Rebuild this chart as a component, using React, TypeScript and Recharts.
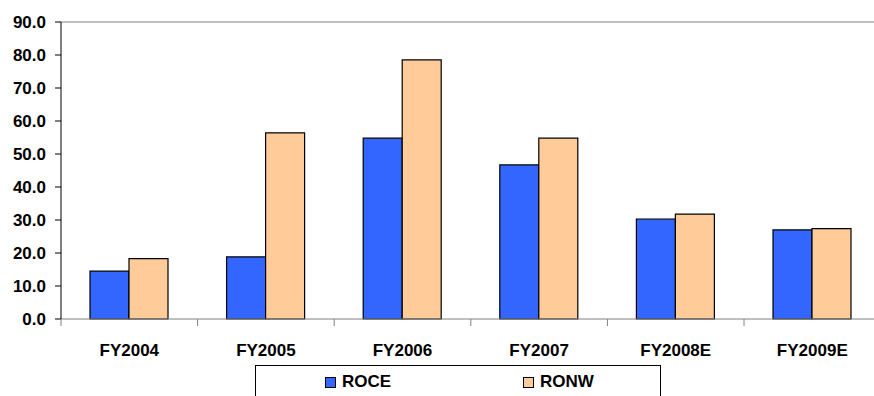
import { BarChart, Bar, XAxis, YAxis, ReferenceLine } from 'recharts';

const categories = ['FY2004', 'FY2005', 'FY2006', 'FY2007', 'FY2008E', 'FY2009E'];
const roce = [14.5, 18.8, 54.8, 46.7, 30.3, 27.0];
const ronw = [18.3, 56.4, 78.5, 54.8, 31.8, 27.4];
const yTicks = [0, 10, 20, 30, 40, 50, 60, 70, 80, 90];
const seriesNames = ['ROCE', 'RONW'];
const seriesColors = ['#3366FF', '#FFCC99'];

const CHART_W = 900;
const CHART_H = 396;
const Y_AXIS_W = 61;
const MARGIN = { top: 22, right: 19.4, left: 0, bottom: 47 };
const BAND = (CHART_W - Y_AXIS_W - MARGIN.left - MARGIN.right) / categories.length;
const FONT = '"Liberation Sans", Arial, sans-serif';

const data = categories.map((name, i) => ({ name, roce: roce[i], ronw: ronw[i] }));

// category label at band centre, tick marks at band edges like Excel
function CategoryTick(props: any) {
    const { x, y, payload, index } = props;
    const left = x - BAND / 2;
    return (
        <g>
            <line x1={left} y1={y} x2={left} y2={y + 7} stroke="#808080" />
            {index === categories.length - 1 && (
                <line x1={x + BAND / 2} y1={y} x2={x + BAND / 2} y2={y + 7} stroke="#808080" />
            )}
            <text
                x={x}
                y={y + 37}
                textAnchor="middle"
                fill="#000"
                fontFamily={FONT}
                fontWeight="bold"
                fontSize={17}
            >
                {payload.value}
            </text>
        </g>
    );
}

export default function App() {
    return (
        <div
            style={{
                position: 'absolute',
                left: 0,
                top: 0,
                width: 874,
                height: 396,
                overflow: 'hidden',
                background: '#fff',
            }}
        >
            <BarChart
                width={CHART_W}
                height={CHART_H}
                data={data}
                margin={MARGIN}
                barCategoryGap={29}
                barGap={0}
            >
                <ReferenceLine y={90} stroke="#808080" />
                <XAxis
                    dataKey="name"
                    height={30}
                    stroke="#808080"
                    tickLine={false}
                    tickSize={0}
                    tickMargin={0}
                    interval={0}
                    tick={<CategoryTick />}
                />
                <YAxis
                    width={Y_AXIS_W}
                    domain={[0, 90]}
                    ticks={yTicks}
                    interval={0}
                    stroke="#000"
                    tickSize={6}
                    tickMargin={9}
                    tickFormatter={(v: number) => v.toFixed(1)}
                    tick={{ fill: '#000', fontFamily: FONT, fontWeight: 'bold', fontSize: 17 }}
                />
                <Bar dataKey="roce" name={seriesNames[0]} fill={seriesColors[0]} stroke="#000" strokeWidth={1.2} isAnimationActive={false} />
                <Bar dataKey="ronw" name={seriesNames[1]} fill={seriesColors[1]} stroke="#000" strokeWidth={1.2} isAnimationActive={false} />
            </BarChart>

            {/* legend box, runs off the bottom edge as in the original */}
            <div
                style={{
                    position: 'absolute',
                    left: 255,
                    top: 365,
                    width: 404,
                    height: 40,
                    border: '1px solid #000',
                    fontFamily: FONT,
                    fontWeight: 'bold',
                    fontSize: 17,
                }}
            >
                {seriesNames.map((name, i) => (
                    <div key={name} style={{ position: 'absolute', left: i === 0 ? 69 : 267, top: 6, display: 'flex', alignItems: 'center', lineHeight: '20px' }}>
                        <span style={{ width: 9, height: 9, background: seriesColors[i], border: '1px solid #000', marginRight: 6 }} />
                        <span>{name}</span>
                    </div>
                ))}
            </div>
        </div>
    );
}
